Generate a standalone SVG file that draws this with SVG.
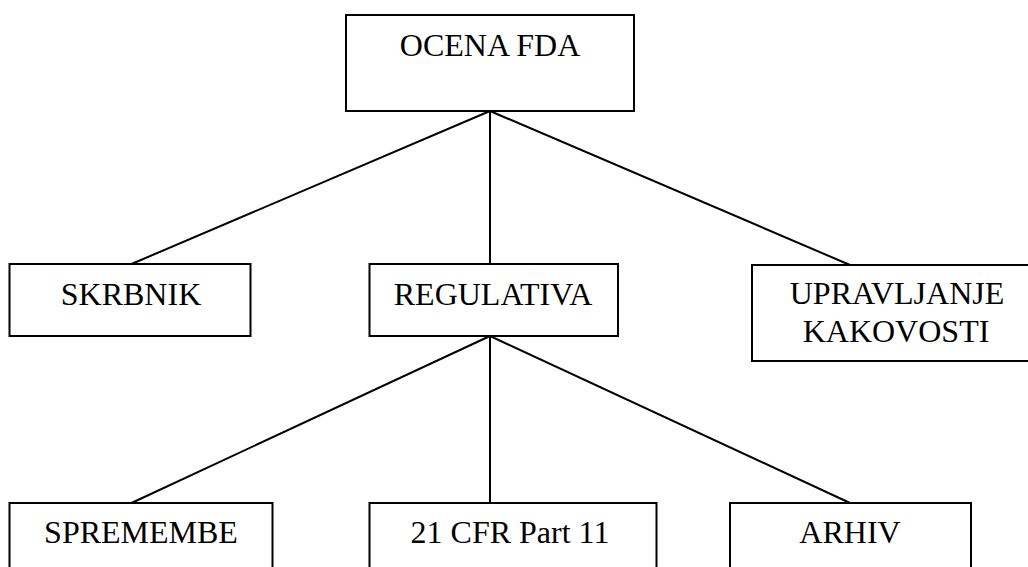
<svg xmlns="http://www.w3.org/2000/svg" width="1028" height="567" viewBox="0 0 1028 567">
  <style>
    .box { fill: #ffffff; stroke: #000000; stroke-width: 2; }
    .lbl { font-family: "Liberation Serif", "Times New Roman", serif; font-size: 32px; fill: #000000; text-anchor: middle; }
    .link { stroke: #000000; stroke-width: 2; fill: none; }
  </style>
  <rect x="0" y="0" width="1028" height="567" fill="#ffffff"/>

  <!-- connectors -->
  <g id="connectors">
    <line class="link" x1="490" y1="111" x2="131.5" y2="264"/>
    <line class="link" x1="490" y1="111" x2="490" y2="264"/>
    <line class="link" x1="490" y1="111" x2="850" y2="265"/>
    <line class="link" x1="490" y1="336" x2="131.5" y2="503"/>
    <line class="link" x1="490" y1="336" x2="490" y2="503"/>
    <line class="link" x1="490" y1="336" x2="850" y2="503"/>
  </g>

  <g id="ocena-fda">
    <rect class="box" x="346" y="15" width="288" height="96"/>
    <text class="lbl" x="490" y="56">OCENA FDA</text>
  </g>

  <g id="skrbnik">
    <rect class="box" x="9.5" y="264" width="241" height="72"/>
    <text class="lbl" x="131" y="305">SKRBNIK</text>
  </g>

  <g id="regulativa">
    <rect class="box" x="369.5" y="264" width="248.5" height="72"/>
    <text class="lbl" x="493" y="305">REGULATIVA</text>
  </g>

  <g id="upravljanje-kakovosti">
    <rect class="box" x="752" y="265" width="280" height="96"/>
    <text class="lbl" x="897" y="304">UPRAVLJANJE</text>
    <text class="lbl" x="896" y="341.5">KAKOVOSTI</text>
  </g>

  <g id="spremembe">
    <rect class="box" x="9.5" y="503" width="263" height="80"/>
    <text class="lbl" x="141" y="543">SPREMEMBE</text>
  </g>

  <g id="cfr-part-11">
    <rect class="box" x="369.5" y="503" width="287" height="80"/>
    <text class="lbl" x="510" y="543">21 CFR Part 11</text>
  </g>

  <g id="arhiv">
    <rect class="box" x="730" y="503" width="241" height="80"/>
    <text class="lbl" x="850" y="543">ARHIV</text>
  </g>
</svg>
